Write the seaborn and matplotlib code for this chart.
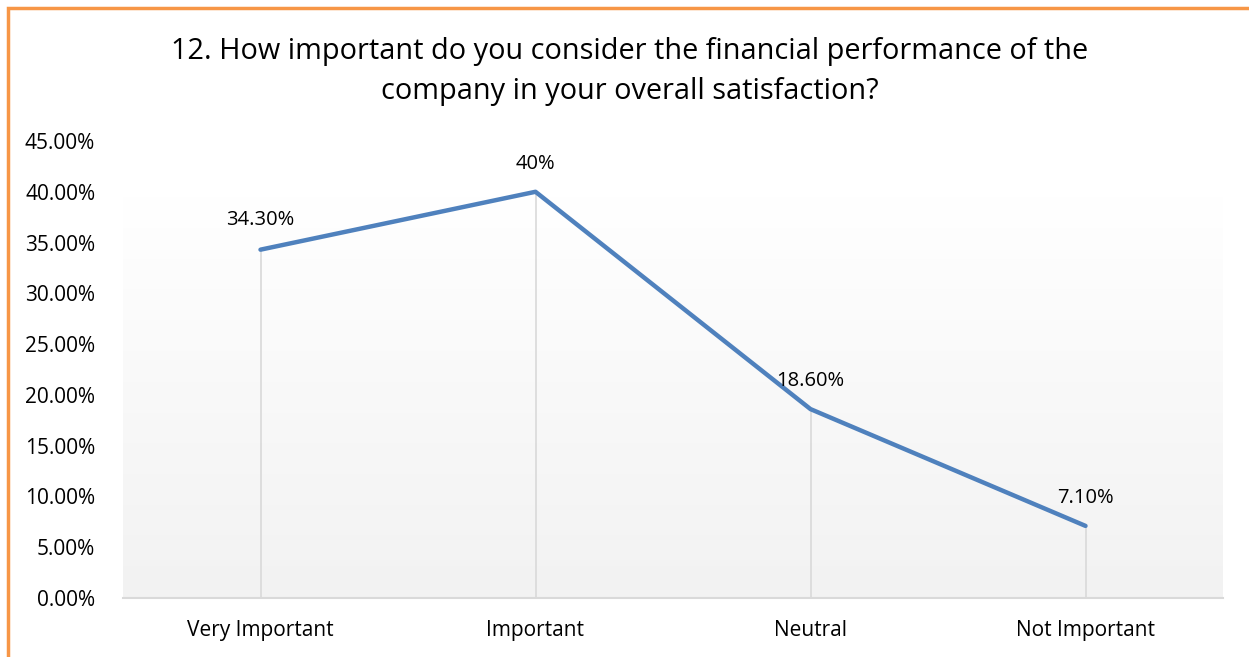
import numpy as np
import pandas as pd
import matplotlib
matplotlib.use("Agg")
import matplotlib.pyplot as plt
import seaborn as sns
from matplotlib.patches import Rectangle
from matplotlib.colors import LinearSegmentedColormap

categories = ["Very Important", "Important", "Neutral", "Not Important"]
values = [34.30, 40.0, 18.60, 7.10]
labels = ["34.30%", "40%", "18.60%", "7.10%"]
yticks = [0, 5, 10, 15, 20, 25, 30, 35, 40, 45]
title = "12. How important do you consider the financial performance of the\ncompany in your overall satisfaction?"

sns.set_theme(style="white")
plt.rcParams['font.family'] = ['Open Sans', 'DejaVu Sans']
plt.rcParams['text.color'] = 'black'
plt.rcParams['xtick.color'] = 'black'
plt.rcParams['ytick.color'] = 'black'

df = pd.DataFrame({"cat": categories, "val": values, "pos": range(len(categories))})

fig = plt.figure(figsize=(12.49, 6.57), dpi=100)
ax = fig.add_axes([123/1249, 1-598/657, 1100/1249, (598-141)/657])

# gradient background (grey at bottom to white near the top)
cmap = LinearSegmentedColormap.from_list("g", ["#f2f2f2", "#ffffff"])
ax.imshow(np.linspace(0.0, 1.0, 256).reshape(-1, 1),
          extent=[-0.5, len(categories) - 0.5, 0, 39.5], aspect="auto",
          cmap=cmap, origin="lower", zorder=0)
ax.set_xlim(-0.5, len(categories) - 0.5)
ax.set_ylim(0, 45)
ax.set_facecolor("white")

# drop lines
ax.vlines(df["pos"], 0, df["val"], color="#d9d9d9", lw=1.2, zorder=1)

sns.lineplot(data=df, x="pos", y="val", ax=ax, color="#4f81bd", lw=3.2,
             zorder=3)

offsets = [14, 13, 13, 13]
for p, v, l, o in zip(df["pos"], values, labels, offsets):
    ax.annotate(l, (p, v), xytext=(0, o), textcoords="offset points",
                ha="center", va="bottom", fontsize=14.5, color="black")

ax.set_xticks(df["pos"])
ax.set_xticklabels(categories, fontsize=15)
ax.set_yticks(yticks)
ax.set_yticklabels([f"{t:.2f}%" for t in yticks], fontsize=15)
ax.tick_params(axis="x", length=0, pad=16)
ax.tick_params(axis="y", length=0, pad=20)
ax.set_xlabel("")
ax.set_ylabel("")
for s in ["top", "right", "left"]:
    ax.spines[s].set_visible(False)
ax.spines["bottom"].set_color("#d9d9d9")
ax.spines["bottom"].set_linewidth(1.5)

fig.text(630/1249, 1-71/657, title, ha="center", va="center",
         fontsize=20.8, linespacing=1.5, color="black")

fig.patches.append(Rectangle((8/1249, -0.1), 1.2, 1 - 8/657 + 0.1,
                             transform=fig.transFigure, fill=False,
                             edgecolor="#f79646", lw=2.5))

fig.savefig("out.png", dpi=100)
